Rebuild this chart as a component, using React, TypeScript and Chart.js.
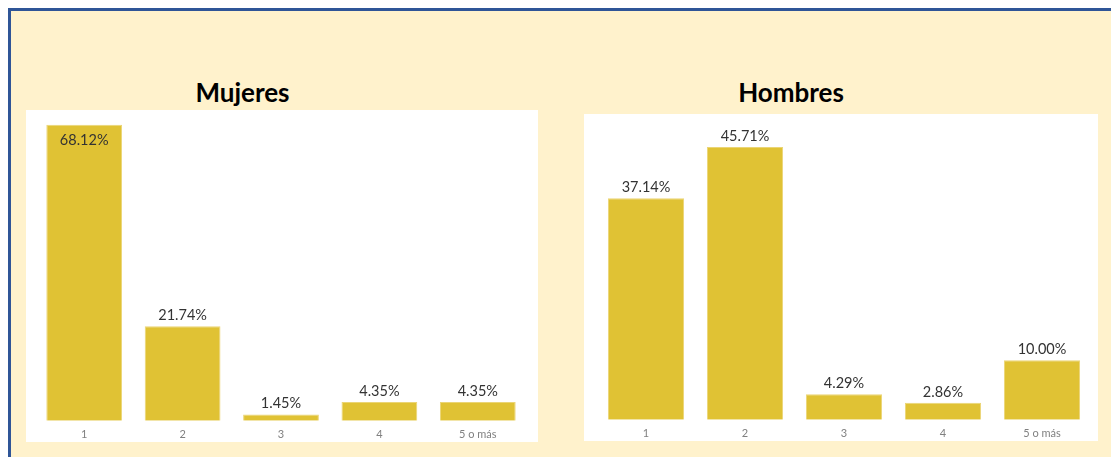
import React, { useEffect, useRef } from "react";
import { Chart, registerables } from "chart.js";

Chart.register(...registerables);

const categories = ["1", "2", "3", "4", "5 o más"];
const mujeresValues = [68.12, 21.74, 1.45, 4.35, 4.35];
const hombresValues = [37.14, 45.71, 4.29, 2.86, 10.0];
const mujeresMax = 70;
const hombresMax = 50;

const BAR_COLOR = "#E0C234";
const FONT = "Lato, 'Open Sans', sans-serif";

const valueLabelPlugin = {
  id: "valueLabels",
  afterDatasetsDraw(chart: any) {
    const ctx = chart.ctx;
    const meta = chart.getDatasetMeta(0);
    const data = chart.data.datasets[0].data as number[];
    ctx.save();
    ctx.font = `14.5px ${FONT}`;
    ctx.fillStyle = "#333333";
    ctx.textAlign = "center";
    ctx.textBaseline = "alphabetic";
    meta.data.forEach((bar: any, i: number) => {
      const text = data[i].toFixed(2) + "%";
      const above = bar.y - 20 >= chart.chartArea.top;
      if (above) ctx.fillText(text, bar.x, bar.y - 6);
      else ctx.fillText(text, bar.x, bar.y + 20);
    });
    ctx.restore();
  },
};

function BarPanel(props: {
  values: number[];
  max: number;
  box: { left: number; top: number; width: number; height: number };
  pad: { left: number; right: number; top: number; bottom: number };
}) {
  const ref = useRef<HTMLCanvasElement>(null);
  const { values, max, box, pad } = props;
  useEffect(() => {
    const chart = new Chart(ref.current as HTMLCanvasElement, {
      type: "bar",
      data: {
        labels: categories,
        datasets: [
          {
            data: values,
            backgroundColor: BAR_COLOR,
            borderColor: "#EBD575",
            borderWidth: 1,
            barPercentage: 0.77,
            categoryPercentage: 1,
          },
        ],
      },
      options: {
        animation: false,
        responsive: false,
        maintainAspectRatio: false,
        layout: { padding: pad },
        plugins: {
          legend: { display: false },
          tooltip: { enabled: false },
          title: { display: false },
        },
        scales: {
          x: {
            grid: { display: false, drawTicks: false },
            border: { display: false },
            ticks: { color: "#808080", font: { family: FONT, size: 11 }, padding: 7 },
          },
          y: { display: false, min: 0, max },
        },
      },
      plugins: [valueLabelPlugin],
    } as any);
    return () => chart.destroy();
  }, []);
  return (
    <div
      style={{
        position: "absolute",
        left: box.left,
        top: box.top,
        width: box.width,
        height: box.height,
        background: "#FFFFFF",
      }}
    >
      <canvas ref={ref} width={box.width} height={box.height} style={{ display: "block" }} />
    </div>
  );
}

const titleStyle: React.CSSProperties = {
  position: "absolute",
  width: 300,
  textAlign: "center",
  fontFamily: FONT,
  fontWeight: 700,
  fontSize: 26,
  lineHeight: "30px",
  color: "#000000",
};

export default function App() {
  return (
    <div
      style={{
        position: "fixed",
        left: 8,
        top: 8,
        width: 1103,
        height: 449,
        boxSizing: "border-box",
        borderTop: "3px solid #2F5597",
        borderLeft: "3px solid #2F5597",
        background: "#FFF2CC",
      }}
    >
      <div style={{ ...titleStyle, left: 242.5 - 11 - 150, top: 65.5 }}>Mujeres</div>
      <div style={{ ...titleStyle, left: 791 - 11 - 150, top: 65.5 }}>Hombres</div>
      <BarPanel
        values={mujeresValues}
        max={mujeresMax}
        box={{ left: 15, top: 99, width: 512, height: 332 }}
        pad={{ left: 9, right: 11, top: 6.5, bottom: -6 }}
      />
      <BarPanel
        values={hombresValues}
        max={hombresMax}
        box={{ left: 573, top: 103, width: 514, height: 327 }}
        pad={{ left: 12.5, right: 6.5, top: 7.5, bottom: -6 }}
      />
    </div>
  );
}
